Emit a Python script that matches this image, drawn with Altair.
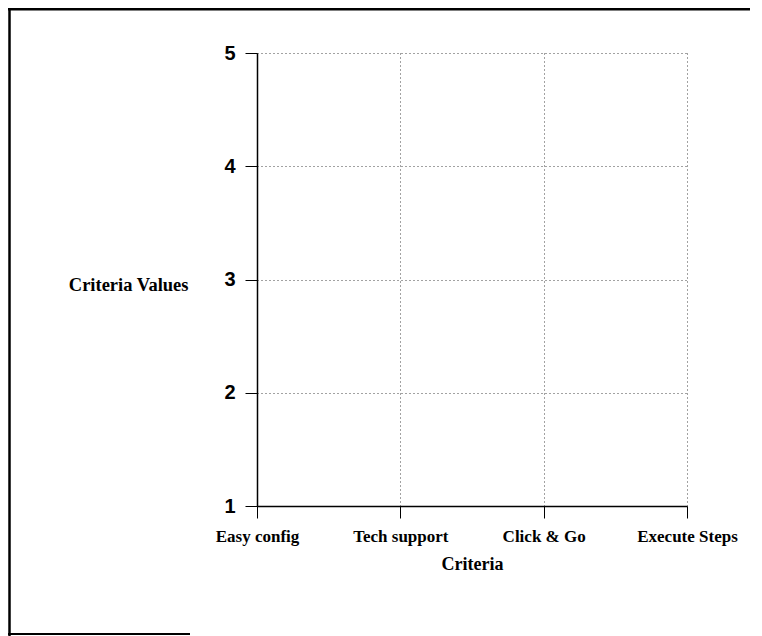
import altair as alt
import pandas as pd

# Categories on the x axis
categories = ["Easy config", "Tech support", "Click & Go", "Execute Steps"]
# The reference shows no plotted values (empty grid)
values = [None, None, None, None]
# Y axis ticks
y_ticks = [1, 2, 3, 4, 5]

df = pd.DataFrame({"Criteria": categories, "Value": values})

PLOT_W, PLOT_H = 430, 453
PAD_L, PAD_T, PAD_R, PAD_B = 249, 45, 63, 130
TOTAL_W = PAD_L + PLOT_W + PAD_R
TOTAL_H = PAD_T + PLOT_H + PAD_B

x_enc = alt.X(
    "Criteria:N",
    sort=categories,
    scale=alt.Scale(type="point", domain=categories, padding=0),
    axis=alt.Axis(
        title="Criteria",
        labelAngle=0,
        labelFont="Liberation Serif",
        labelFontWeight="bold",
        labelFontSize=17,
        labelColor="black",
        labelPadding=10,
        labelFlush=False,
        labelOverlap=False,
        labelBound=False,
        tickSize=12,
        tickColor="black",
        tickWidth=1,
        domainColor="black",
        domainWidth=1.5,
        grid=True,
        gridColor="#444444",
        gridDash=[1, 3],
        gridWidth=1,
        titleFont="Liberation Serif",
        titleFontWeight="bold",
        titleFontSize=18,
        titleColor="black",
        titleBaseline="alphabetic",
        titleY=63,
    ),
)

y_enc = alt.Y(
    "Value:Q",
    scale=alt.Scale(domain=[1, 5], nice=False, zero=False),
    axis=alt.Axis(
        title="Criteria Values",
        values=y_ticks,
        format="d",
        labelFont="Liberation Sans",
        labelFontWeight="bold",
        labelFontSize=20,
        labelColor="black",
        labelPadding=10,
        tickSize=12,
        tickColor="black",
        domainColor="black",
        domainWidth=1.5,
        grid=True,
        gridColor="#444444",
        gridDash=[1, 3],
        gridWidth=1,
        titleFont="Liberation Serif",
        titleFontWeight="bold",
        titleFontSize=18.5,
        titleColor="black",
        titleAngle=0,
        titleAlign="right",
        titleBaseline="alphabetic",
        titleX=-69,
        titleY=237,
    ),
)

base = alt.Chart(df).mark_line(color="black").encode(x=x_enc, y=y_enc)

frame_df = pd.DataFrame({"k": [0]})
left_border = alt.Chart(frame_df).mark_rule(color="black", strokeWidth=2.5).encode(
    x=alt.value(-247.5), y=alt.value(-PAD_T), y2=alt.value(TOTAL_H - PAD_T)
)
top_border = alt.Chart(frame_df).mark_rule(color="black", strokeWidth=3).encode(
    x=alt.value(-249), x2=alt.value(TOTAL_W - PAD_L), y=alt.value(-PAD_T + 1)
)
bottom_border = alt.Chart(frame_df).mark_rule(color="black", strokeWidth=2).encode(
    x=alt.value(-249), x2=alt.value(-67), y=alt.value(TOTAL_H - PAD_T - 2)
)

chart = alt.layer(base, left_border, top_border, bottom_border).properties(
    width=PLOT_W,
    height=PLOT_H,
    padding={"left": PAD_L, "top": PAD_T, "right": PAD_R, "bottom": PAD_B},
    autosize=alt.AutoSizeParams(type="none"),
    background="white",
).configure_view(stroke=None)

chart.save("out.html", embed_options={"renderer": "svg", "actions": False})
